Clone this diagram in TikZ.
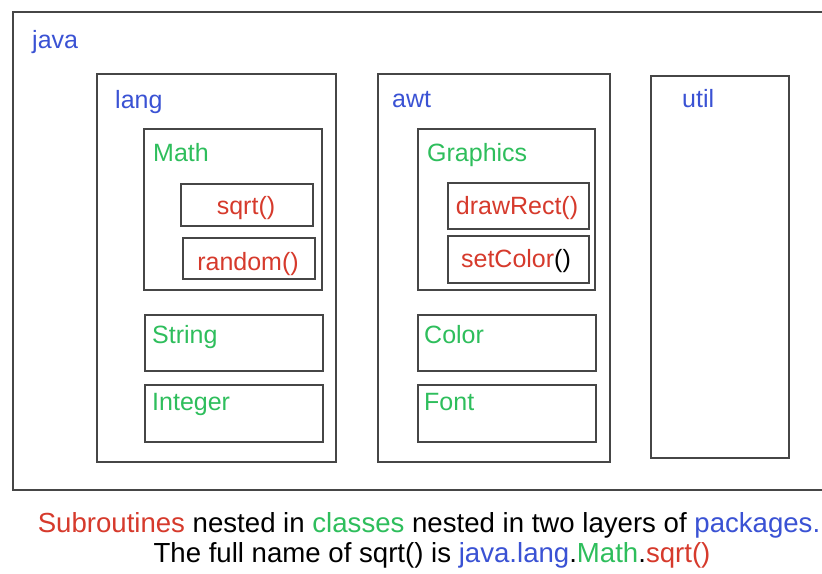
\documentclass[tikz,border=0pt]{standalone}
\usepackage{fontspec}
\setmainfont{Liberation Sans}
\definecolor{pkgblue}{RGB}{58,82,212}
\definecolor{clsgreen}{RGB}{46,190,92}
\definecolor{subred}{RGB}{214,58,44}
\definecolor{edge}{RGB}{70,70,70}
\begin{document}
\begin{tikzpicture}[x=1pt,y=-1pt,
  box/.style={draw=edge, line width=1.8pt, rectangle, inner sep=0pt, anchor=north west},
  lbl/.style={inner sep=0pt, font=\fontsize{25}{30}\selectfont},
  captxt/.style={inner sep=0pt, font=\fontsize{27.6}{32}\selectfont}]
\useasboundingbox (0,0) rectangle (822,573);
\fill[white] (0,0) rectangle (822,573);
\clip (0,0) rectangle (822,573);
% packages
\node[box, minimum width=830, minimum height=478] (java) at (12,11) {};
\node[box, minimum width=239, minimum height=388] (lang) at (96,73) {};
\node[box, minimum width=232, minimum height=388] (awt) at (377,73) {};
\node[box, minimum width=138, minimum height=382] (util) at (650,75) {};
% classes
\node[box, minimum width=178, minimum height=161] (math) at (143,128) {};
\node[box, minimum width=177, minimum height=161] (graphics) at (417,128) {};
\node[box, minimum width=178, minimum height=56] (string) at (144,314) {};
\node[box, minimum width=178, minimum height=57] (integer) at (144,384) {};
\node[box, minimum width=178, minimum height=56] (color) at (417,314) {};
\node[box, minimum width=178, minimum height=57] (font) at (417,384) {};
% subroutines
\node[box, minimum width=132, minimum height=42] (sqrt) at (180,183) {};
\node[box, minimum width=132, minimum height=41] (random) at (182,237) {};
\node[box, minimum width=141, minimum height=46] (drawrect) at (447,182) {};
\node[box, minimum width=141, minimum height=47] (setcolor) at (447,235) {};
% labels
\node[lbl, anchor=base west, text=pkgblue] (javalbl) at (32,48) {java};
\node[lbl, anchor=base west, text=pkgblue] (langlbl) at (115,108) {lang};
\node[lbl, anchor=base west, text=pkgblue] (awtlbl) at (392,107) {awt};
\node[lbl, anchor=base west, text=pkgblue] (utillbl) at (682,107) {util};
\node[lbl, anchor=base west, text=clsgreen] (mathlbl) at (153,161) {Math};
\node[lbl, anchor=base west, text=clsgreen] (graphicslbl) at (427,161) {Graphics};
\node[lbl, anchor=base west, text=clsgreen] (stringlbl) at (152,343) {String};
\node[lbl, anchor=base west, text=clsgreen] (integerlbl) at (152,410) {Integer};
\node[lbl, anchor=base west, text=clsgreen] (colorlbl) at (424,343) {Color};
\node[lbl, anchor=base west, text=clsgreen] (fontlbl) at (424,410) {Font};
\node[lbl, anchor=base, text=subred] (sqrtlbl) at (246,214) {sqrt()};
\node[lbl, anchor=base, text=subred] (randomlbl) at (248,270) {random()};
\node[lbl, anchor=base, text=subred] (drawrectlbl) at (517,214) {drawRect()};
\node[lbl, anchor=base] (setcolorlbl) at (516,267) {\textcolor{subred}{setColor}()};
% caption
\node[captxt, anchor=base] (cap1) at (429,532) {\textcolor{subred}{Subroutines} nested in \textcolor{clsgreen}{classes} nested in two layers of \textcolor{pkgblue}{packages.}};
\node[captxt, anchor=base] (cap2) at (432,562) {The full name of sqrt() is \textcolor{pkgblue}{java.lang}.\textcolor{clsgreen}{Math}.\textcolor{subred}{sqrt()}};
\end{tikzpicture}
\end{document}
